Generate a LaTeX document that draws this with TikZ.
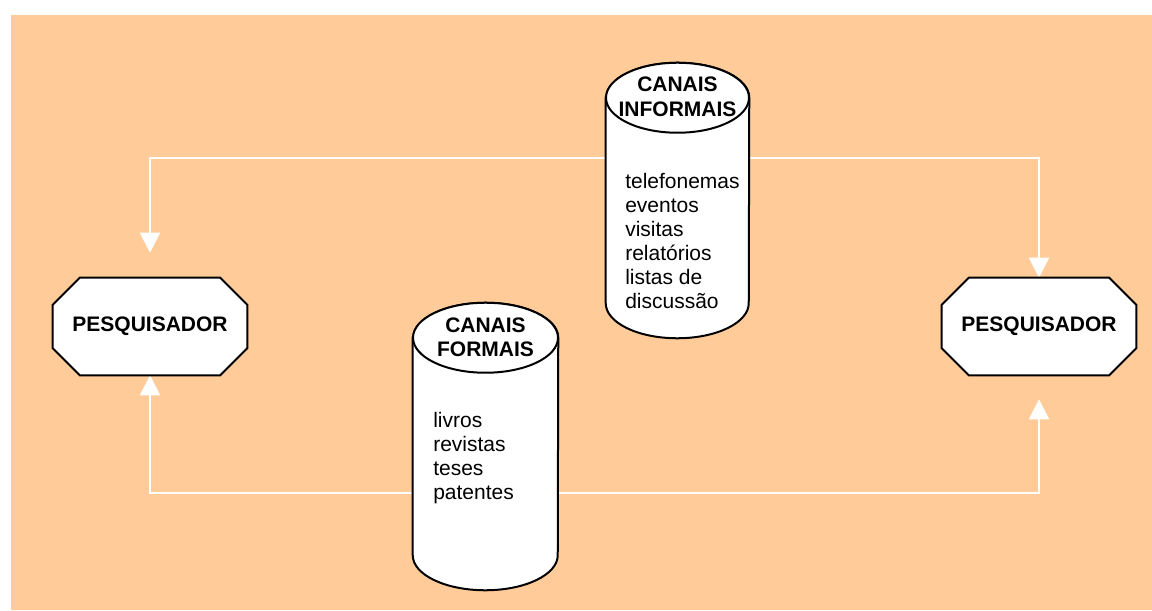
\documentclass[tikz,border=0pt]{standalone}
\usepackage{fontspec}
\setmainfont{Liberation Sans}
\usetikzlibrary{arrows.meta,calc}
\definecolor{peach}{HTML}{FFCC99}
\pgfdeclarelayer{bg}
\pgfdeclarelayer{shp}
\pgfsetlayers{bg,shp,main}
\begin{document}
\begin{tikzpicture}[x=0.75pt,y=-0.75pt,
  box/.style={minimum width=145.5pt, minimum height=72.75pt, inner sep=0pt, font=\bfseries\fontsize{15.75pt}{18pt}\selectfont},
  cylbox/.style={inner sep=0pt},
  title/.style={align=center, inner sep=0pt, anchor=base, font=\bfseries\fontsize{15.75pt}{18pt}\selectfont},
  body/.style={align=left, inner sep=0pt, anchor=base west, font=\fontsize{15.75pt}{18pt}\selectfont},
  outline/.style={draw=black, line width=1.5pt, fill=white, line join=miter},
  conn/.style={draw=white, line width=1.5pt, arrows={Triangle[width=15pt,length=15pt]-Triangle[width=15pt,length=15pt]}}
]
\useasboundingbox (0,0) rectangle (1152,610);

% nodes (base anchor of a multi-line node = baseline of its last line)
\node[box] (L) at (150,326.5) {PESQUISADOR};
\node[box] (R) at (1039,326.5) {PESQUISADOR};
\node[cylbox, minimum width=107.25pt, minimum height=206.25pt] (I) at (677.5,200.5) {};
\node[cylbox, minimum width=108.75pt, minimum height=215.25pt] (F) at (485.5,446.5) {};
\node[title] (It) at (677.5,116) {CANAIS\\INFORMAIS};
\node[title] (Ft) at (485.5,356) {CANAIS\\FORMAIS};
\node[body] (Ib) at (625,308) {telefonemas\\eventos\\visitas\\relatórios\\listas de\\discussão};
\node[body] (Fb) at (433,499.5) {livros\\revistas\\teses\\patentes};

% shapes
\begin{pgfonlayer}{shp}
  \foreach \n in {L,R}{
    \draw[outline] ($(\n.north west)+(27,0)$) -- ($(\n.north east)+(-27,0)$) -- ($(\n.north east)+(0,27)$)
      -- ($(\n.south east)+(0,-27)$) -- ($(\n.south east)+(-27,0)$) -- ($(\n.south west)+(27,0)$)
      -- ($(\n.south west)+(0,-27)$) -- ($(\n.north west)+(0,27)$) -- cycle;
  }
  \coordinate (Itop) at ($(I.north)+(0,35)$);
  \coordinate (Ibot) at ($(I.south)+(0,-35)$);
  \draw[outline] (Itop -| I.west) -- (Ibot -| I.west)
    arc[start angle=180,end angle=360,x radius=53.625pt,y radius=26.25pt]
    -- (Itop -| I.east) arc[start angle=0,end angle=180,x radius=53.625pt,y radius=26.25pt] -- cycle;
  \draw[outline] (Itop) ellipse[x radius=53.625pt,y radius=26.25pt];
  \coordinate (Ftop) at ($(F.north)+(0,35)$);
  \coordinate (Fbot) at ($(F.south)+(0,-35)$);
  \draw[outline] (Ftop -| F.west) -- (Fbot -| F.west)
    arc[start angle=180,end angle=360,x radius=54.375pt,y radius=26.25pt]
    -- (Ftop -| F.east) arc[start angle=0,end angle=180,x radius=54.375pt,y radius=26.25pt] -- cycle;
  \draw[outline] (Ftop) ellipse[x radius=54.375pt,y radius=26.25pt];
\end{pgfonlayer}

% background and connectors
\begin{pgfonlayer}{bg}
  \fill[peach] (11,15) rectangle (1152,610);
  \coordinate (tL) at ($(L.north)+(0,-25)$);
  \coordinate (bR) at ($(R.south)+(0,24)$);
  \coordinate (topbar) at (0,158);
  \coordinate (botbar) at (0,493);
  \draw[conn] (tL) -- (tL |- topbar) -- (R.north |- topbar) -- (R.north);
  \draw[conn] (L.south) -- (L.south |- botbar) -- (bR |- botbar) -- (bR);
\end{pgfonlayer}
\end{tikzpicture}
\end{document}
